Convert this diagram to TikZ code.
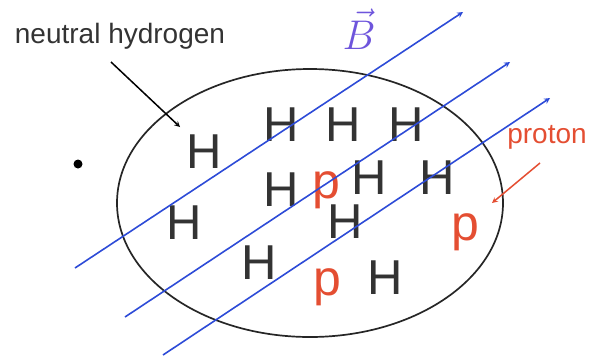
\documentclass[tikz,border=0pt]{standalone}
\usepackage{fontspec}
\setmainfont{Liberation Sans}
\usepackage{tikz}
\definecolor{fieldblue}{RGB}{45,75,215}
\definecolor{bviolet}{RGB}{110,85,220}
\definecolor{protred}{RGB}{228,78,50}

\begin{document}
\begin{tikzpicture}[x=1pt,y=-1pt,
hatom/.style={inner sep=0pt,text=black!80,font=\fontsize{49}{50}\selectfont},
prot/.style={inner sep=0pt,text=protred,font=\fontsize{50}{52}\selectfont},
lbl/.style={inner sep=0pt,font=\fontsize{28}{30}\selectfont},
field/.style={fieldblue,line width=1.6pt,-stealth}]
\useasboundingbox (0,0) rectangle (593,360);
% cloud of gas
\draw[line width=1.7pt,black!85] (310,203) ellipse [x radius=193,y radius=134];
\fill (78,164) circle (4.5);
% atoms
\node[hatom] (h1) at (204,152) {H};
\node[hatom] (h2) at (281,125) {H};
\node[hatom] (h3) at (343,125) {H};
\node[hatom] (h4) at (406,125) {H};
\node[hatom] (h5) at (281,190) {H};
\node[hatom] (h6) at (369,178) {H};
\node[hatom] (h7) at (437,178) {H};
\node[hatom] (h8) at (184,223) {H};
\node[hatom] (h9) at (345,222) {H};
\node[hatom] (h10) at (259,263) {H};
\node[hatom] (h11) at (385,278) {H};
\node[prot] (p1) at (326,190) {p};
\node[prot] (p2) at (465,232) {p};
\node[prot] (p3) at (327,287) {p};
% field lines
\coordinate (f1s) at (75,268);  \coordinate (f1e) at (463,12);
\coordinate (f2s) at (125,317); \coordinate (f2e) at (510,62);
\coordinate (f3s) at (163,355); \coordinate (f3e) at (550,98);
\draw[field] (f1s)--(f1e); \draw[field] (f2s)--(f2e); \draw[field] (f3s)--(f3e);
\node[text=bviolet,inner sep=0pt,scale=2,font=\fontsize{20}{22}\selectfont] (bvec) at (359,29) {$\vec{B}$};
% labels
\node[lbl,text=black!80] (nh) at (120,36) {neutral hydrogen};
\coordinate (nhtip) at (180,127);
\draw[line width=1.5pt,-stealth] (111,62) coordinate (nhtail) -- (nhtip);
\node[lbl,text=protred] (proton) at (547,137) {proton};
\coordinate (prtip) at (492,203);
\draw[protred,line width=1.5pt,-stealth] (540,163) coordinate (prtail) -- (prtip);
\end{tikzpicture}
\end{document}
